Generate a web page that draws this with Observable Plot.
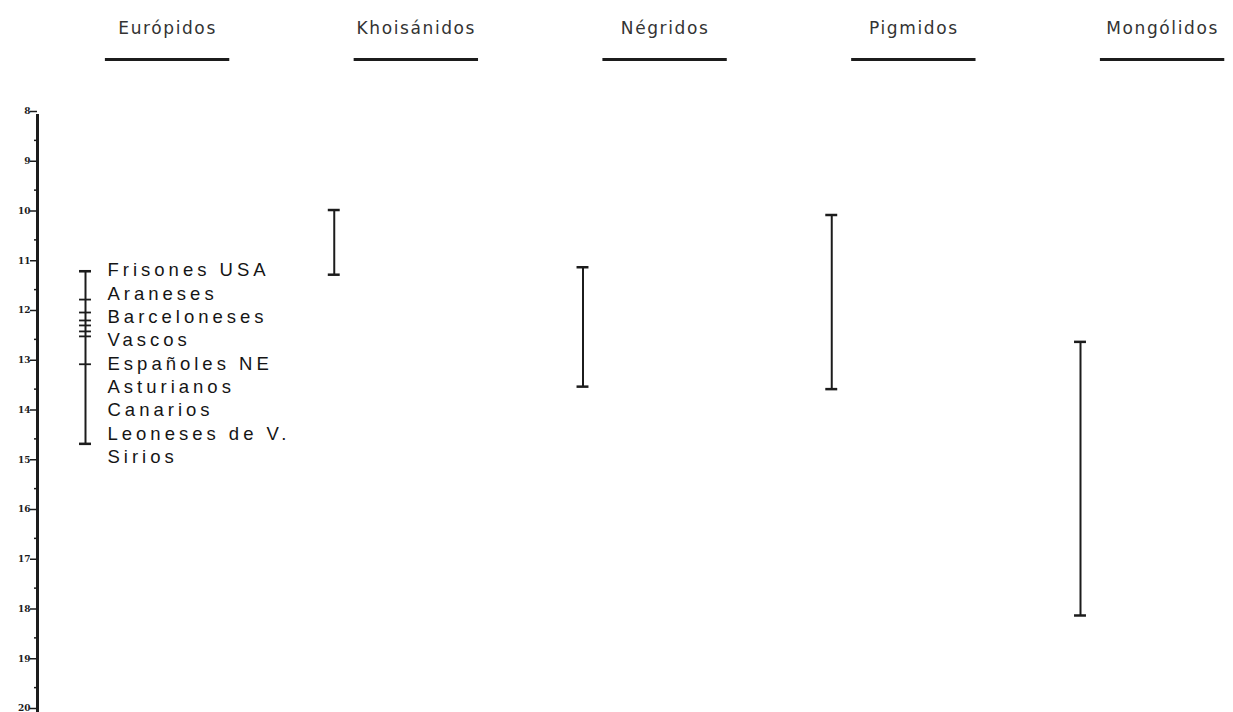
<!DOCTYPE html>
<html>
<head>
<meta charset="utf-8">
<script src="https://cdn.jsdelivr.net/npm/d3@7"></script>
<script src="https://cdn.jsdelivr.net/npm/@observablehq/plot@0.6"></script>
<style>
  html, body { margin: 0; padding: 0; background: #ffffff; }
  #chart svg { display: block; }
  .poplabels text { letter-spacing: 4px; }
  .headers text { letter-spacing: 1.6px; }
</style>
</head>
<body>
<div id="chart"></div>
<script>
// Groups (columns) and their ranges
const groups = ["Európidos", "Khoisánidos", "Négridos", "Pigmidos", "Mongólidos"];
const rangeMin = [11.13, 9.9, 11.05, 10.0, 12.55];
const rangeMax = [14.6, 11.2, 13.45, 13.5, 18.05];

// Európidos populations and values
const populations = ["Frisones USA", "Araneses", "Barceloneses", "Vascos", "Españoles NE", "Asturianos", "Canarios", "Leoneses de V.", "Sirios"];
const popValues = [11.13, 11.7, 11.96, 12.12, 12.22, 12.34, 12.44, 13.0, 14.6];

// Axis ticks
const majorTicks = [8, 9, 10, 11, 12, 13, 14, 15, 16, 17, 18, 19, 20];
const minorTicks = [8.5, 9.5, 10.5, 11.5, 12.5, 13.5, 14.5, 15.5, 16.5, 17.5, 18.5, 19.5];

const bars = groups.map((g, i) => ({g, i, lo: rangeMin[i], hi: rangeMax[i]}));
const pops = populations.map((p, k) => ({p, k, v: popValues[k]}));

const ink = "#1c1c1c";
const capHalf = 0.024;
const headerOffset = 0.33;
const underlineHalf = 0.25;
const labelStart = 11.11, labelStep = 0.47;

const chart = Plot.plot({
  width: 1233,
  height: 712,
  marginTop: 115,
  marginBottom: 0,
  marginLeft: 37,
  marginRight: 0,
  style: {background: "transparent", fontFamily: "DejaVu Sans, sans-serif"},
  x: {type: "linear", domain: [0, 4], range: [85, 1080], axis: null},
  y: {domain: [8, 20], reverse: true, axis: null},
  marks: [
    // axis line
    Plot.frame({anchor: "left", stroke: ink, strokeWidth: 3}),
    // minor ticks
    Plot.axisY({ticks: minorTicks, tickSize: 3, text: null, stroke: ink, strokeWidth: 1.5}),
    // major ticks + labels
    Plot.axisY({ticks: majorTicks, tickSize: 7, tickPadding: 0, tickFormat: d => String(d), stroke: ink, strokeWidth: 1.5,
      fontSize: 9, fontWeight: "bold", fill: ink, dy: -4, fontFamily: "DejaVu Serif, serif"}),
    // headers
    Plot.text(bars, {x: d => d.i + headerOffset, frameAnchor: "top", lineAnchor: "middle", dy: -87, text: "g",
      fontSize: 17, fill: "#333", className: "headers"}),
    // header underlines
    Plot.ruleY(bars, {x1: d => d.i + headerOffset - underlineHalf, x2: d => d.i + headerOffset + underlineHalf,
      y: () => 8, dy: -56, stroke: ink, strokeWidth: 3}),
    // range bars
    Plot.ruleX(bars, {x: "i", y1: "lo", y2: "hi", stroke: ink, strokeWidth: 2}),
    Plot.ruleY(bars, {x1: d => d.i - capHalf, x2: d => d.i + capHalf, y: "lo", stroke: ink, strokeWidth: 2.5}),
    Plot.ruleY(bars, {x1: d => d.i - capHalf, x2: d => d.i + capHalf, y: "hi", stroke: ink, strokeWidth: 2.5}),
    // Európidos population ticks
    Plot.ruleY(pops, {x1: -capHalf, x2: capHalf, y: "v", stroke: ink, strokeWidth: 1.8}),
    // population labels
    Plot.text(pops, {x: 0, y: d => labelStart + d.k * labelStep, dx: 22, text: "p", textAnchor: "start",
      fontSize: 18.5, fill: "#151515", fontFamily: "Liberation Sans, Arial, sans-serif", className: "poplabels"})
  ]
});
document.getElementById("chart").appendChild(chart);
</script>
</body>
</html>
